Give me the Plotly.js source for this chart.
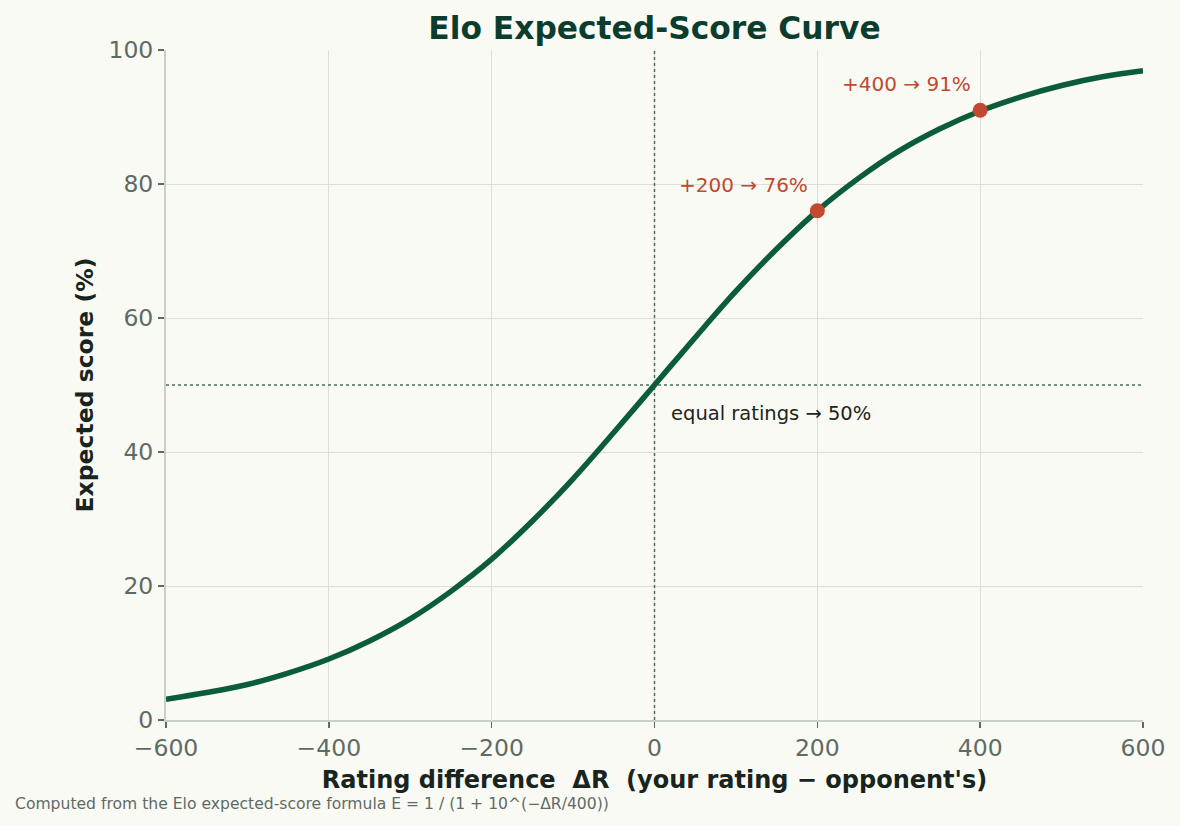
<!DOCTYPE html>
<html>
<head>
<meta charset="utf-8">
<script src="https://cdn.plot.ly/plotly-3.0.1.min.js"></script>
<style>html,body{margin:0;padding:0;background:#FAFAF4;}#chart{width:1180px;height:826px;}</style>
</head>
<body>
<div id="chart"></div>
<script>
// Rating difference (x) and expected score in % (y)
const ratingDiff = [-600,-550,-500,-450,-400,-350,-300,-250,-200,-150,-100,-50,0,50,100,150,200,250,300,350,400,450,500,550,600];
const expectedScore = [3.1,4.1,5.3,7.0,9.1,11.8,15.1,19.2,24.0,29.7,36.0,42.9,50.0,57.1,64.0,70.3,76.0,80.8,84.9,88.2,90.9,93.0,94.7,96.0,96.9];
const highlightX = [200, 400];
const highlightY = [76, 91];
const highlightLabels = ["+200 → 76%", "+400 → 91%"];
const equalX = 0;      // equal ratings
const equalY = 50;     // 50% expected score
const xRange = [-600, 600];
const yRange = [0, 100];
const xTicks = [-600,-400,-200,0,200,400,600];
const xTickLabels = ["−600","−400","−200","0","200","400","600"];
const yTicks = [0,20,40,60,80,100];

const font = "DejaVu Sans, sans-serif";
const refLine = {color: "#4F6B5E", width: 1.5, dash: "dot"};
const traces = [
  {x: [equalX, equalX], y: yRange, type: "scatter", mode: "lines", line: refLine, hoverinfo: "skip", cliponaxis: false},
  {x: xRange, y: [equalY, equalY], type: "scatter", mode: "lines", line: refLine, hoverinfo: "skip"},
  {x: ratingDiff, y: expectedScore, type: "scatter", mode: "lines",
   line: {color: "#0B5C3B", width: 5.5, shape: "spline"}, hoverinfo: "skip"},
  {x: highlightX, y: highlightY, type: "scatter", mode: "markers",
   marker: {color: "#C0492F", size: 15}, hoverinfo: "skip"}
];
const pw = 1180 - 166 - 37, ph = 826 - 50 - 106;
const annotations = highlightX.map((x, i) => ({
  x: x, y: highlightY[i], xref: "x", yref: "y", text: highlightLabels[i],
  showarrow: false, xanchor: "right", yanchor: "middle", xshift: -7, yshift: 26,
  font: {family: font, size: 20, color: "#C0492F"}
}));
annotations.push({x: equalX, y: equalY, xref: "x", yref: "y", text: "equal ratings → 50%",
  showarrow: false, xanchor: "left", yanchor: "middle", xshift: 14, yshift: -28,
  font: {family: font, size: 19.5, color: "#1C2420"}});
annotations.push({x: (13 - 166) / pw, y: (826 - 106 - 804) / ph, xref: "paper", yref: "paper",
  text: "Computed from the Elo expected-score formula E = 1 / (1 + 10^(−ΔR/400))",
  showarrow: false, xanchor: "left", yanchor: "middle",
  font: {family: font, size: 15.6, color: "#5E6B64"}});
const layout = {
  width: 1180, height: 826,
  paper_bgcolor: "#FAFAF4", plot_bgcolor: "#FAFAF4",
  margin: {l: 166, r: 37, t: 50, b: 106},
  showlegend: false,
  title: {text: "<b>Elo Expected-Score Curve</b>", xref: "paper", x: 0.5, xanchor: "center", y: 0.966, yanchor: "middle",
          font: {family: font, size: 31.3, color: "#0B3D2E"}},
  xaxis: {range: xRange, tickvals: xTicks, ticktext: xTickLabels,
          showgrid: true, gridcolor: "#DCDED8", gridwidth: 1, zeroline: false,
          showline: true, linecolor: "#C9CFC9", linewidth: 2,
          ticks: "outside", ticklen: 6, tickcolor: "#5E6B64", tickwidth: 1.5,
          tickfont: {family: font, size: 23.5, color: "#5E6B64"},
          title: {text: "<b>Rating difference  ΔR  (your rating − opponent's)</b>", standoff: 10,
                  font: {family: font, size: 24, color: "#18241E"}}},
  yaxis: {range: yRange, tickvals: yTicks,
          showgrid: true, gridcolor: "#DCDED8", gridwidth: 1, zeroline: false,
          showline: true, linecolor: "#C9CFC9", linewidth: 2,
          ticks: "outside", ticklen: 6, tickcolor: "#5E6B64", tickwidth: 1.5,
          tickfont: {family: font, size: 23.5, color: "#5E6B64"},
          title: {text: "<b>Expected score (%)</b>", standoff: 8,
                  font: {family: font, size: 23.5, color: "#18241E"}}},
  annotations: annotations
};
Plotly.newPlot("chart", traces, layout, {staticPlot: true});
</script>
</body>
</html>
